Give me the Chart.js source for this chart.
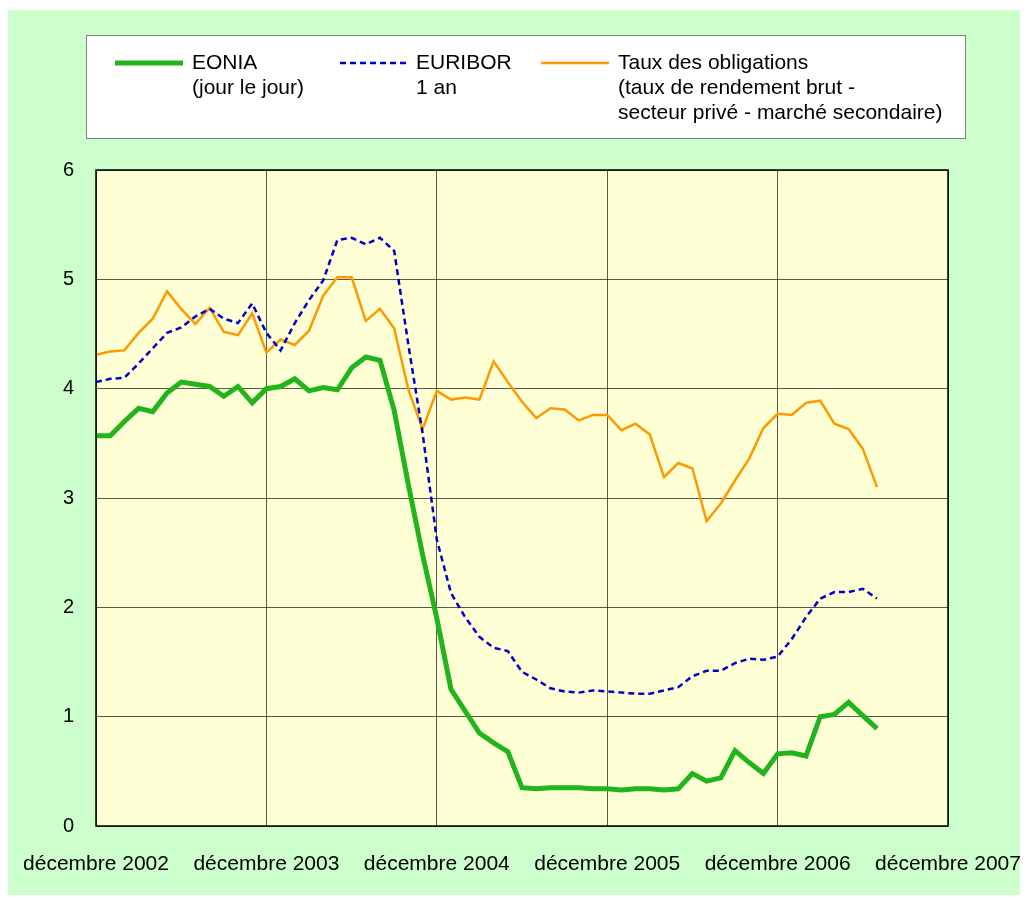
<!DOCTYPE html>
<html lang="fr">
<head>
<meta charset="utf-8">
<title>EONIA, EURIBOR, taux des obligations</title>
<script src="https://cdn.jsdelivr.net/npm/chart.js@4.4.1/dist/chart.umd.min.js"></script>
<style>
  html, body { margin: 0; padding: 0; background: #ffffff; }
  canvas { display: block; }
</style>
</head>
<body>
<canvas id="taux-chart" width="1027" height="900"></canvas>
<script>
      // mois depuis décembre 2002 (0 = déc. 2002)
      const firstYear = 2002;
      const monthsShown = 60;
      const yTicks = [0, 1, 2, 3, 4, 5, 6];

      const eonia = [3.57, 3.57, 3.70, 3.82, 3.79, 3.96, 4.06, 4.04, 4.02, 3.93,
        4.02, 3.87, 4.00, 4.02, 4.09, 3.98, 4.01, 3.99, 4.19, 4.29,
        4.26, 3.80, 3.12, 2.48, 1.90, 1.25, 1.05, 0.85, 0.76, 0.68,
        0.35, 0.34, 0.35, 0.35, 0.35, 0.34, 0.34, 0.33, 0.34, 0.34,
        0.33, 0.34, 0.48, 0.41, 0.44, 0.69, 0.58, 0.48, 0.66, 0.67,
        0.64, 1.00, 1.02, 1.13, 1.01, 0.89];

      const euribor = [4.06, 4.09, 4.10, 4.23, 4.37, 4.51, 4.56, 4.66, 4.73, 4.64,
        4.60, 4.78, 4.51, 4.35, 4.60, 4.81, 4.99, 5.36, 5.38, 5.32,
        5.38, 5.26, 4.40, 3.59, 2.62, 2.13, 1.91, 1.73, 1.63, 1.60,
        1.41, 1.34, 1.26, 1.23, 1.22, 1.24, 1.23, 1.22, 1.21, 1.21,
        1.24, 1.27, 1.37, 1.42, 1.42, 1.49, 1.53, 1.52, 1.55, 1.71,
        1.91, 2.08, 2.14, 2.14, 2.17, 2.08];

      const obligations = [4.31, 4.34, 4.35, 4.51, 4.64, 4.89, 4.73, 4.59, 4.74, 4.52,
        4.49, 4.69, 4.33, 4.45, 4.40, 4.53, 4.85, 5.02, 5.02, 4.62,
        4.73, 4.55, 3.99, 3.63, 3.98, 3.90, 3.92, 3.90, 4.25, 4.06,
        3.88, 3.73, 3.82, 3.81, 3.71, 3.76, 3.76, 3.62, 3.68, 3.58,
        3.19, 3.32, 3.27, 2.79, 2.95, 3.16, 3.36, 3.64, 3.77, 3.76,
        3.87, 3.89, 3.68, 3.63, 3.45, 3.10];

      const legendEonia = ["EONIA", "(jour le jour)"];
      const legendEuribor = ["EURIBOR", "1 an"];
      const legendObligations = ["Taux des obligations", "(taux de rendement brut -", "secteur privé - marché secondaire)"];

      const toPoints = (arr) => arr.map((v, i) => ({ x: i, y: v }));

      const fontFamily = "'Liberation Sans', Arial, sans-serif";

      // fond vert, zone de tracé jaune, cadre noir
      const backgroundPlugin = {
        id: "fonds",
        beforeDraw(chart) {
          const c = chart.ctx;
          const a = chart.chartArea;
          c.save();
          c.fillStyle = "#ccffcc";
          c.fillRect(8, 10, 1012, 885);
          c.fillStyle = "#ffffd5";
          c.fillRect(a.left, a.top, a.right - a.left, a.bottom - a.top);
          c.restore();
        },
        afterDatasetsDraw(chart) {
          const c = chart.ctx;
          const a = chart.chartArea;
          c.save();
          c.strokeStyle = "#000000";
          c.lineWidth = 1.5;
          c.strokeRect(a.left, a.top, a.right - a.left, a.bottom - a.top);
          c.restore();
        },
      };

      // légende encadrée sur trois colonnes
      const legendPlugin = {
        id: "legendeBoite",
        afterDraw(chart) {
          const c = chart.ctx;
          c.save();
          c.fillStyle = "#ffffff";
          c.fillRect(86, 35, 879, 103);
          c.strokeStyle = "#808080";
          c.lineWidth = 1;
          c.strokeRect(86.5, 35.5, 879, 103);

          const cols = [
            { ds: 0, x1: 115, x2: 183, tx: 192 },
            { ds: 1, x1: 340, x2: 410, tx: 416 },
            { ds: 2, x1: 541, x2: 609, tx: 618 },
          ];
          c.font = "21px " + fontFamily;
          c.textBaseline = "middle";
          c.textAlign = "left";
          cols.forEach((col) => {
            const ds = chart.data.datasets[col.ds];
            c.strokeStyle = ds.borderColor;
            c.lineWidth = ds.borderWidth;
            c.setLineDash(ds.borderDash || []);
            c.beginPath();
            c.moveTo(col.x1, 63);
            c.lineTo(col.x2, 63);
            c.stroke();
            c.setLineDash([]);
            c.fillStyle = "#000000";
            ds.legendLines.forEach((line, k) => {
              c.fillText(line, col.tx, 63 + k * 25);
            });
          });
          c.restore();
        },
      };

      const ctx = document.getElementById("taux-chart").getContext("2d");
      const tauxChart = new Chart(ctx, {
        type: "line",
        data: {
          datasets: [
            {
              label: "EONIA (jour le jour)",
              legendLines: legendEonia,
              data: toPoints(eonia),
              borderColor: "#22b41c",
              borderWidth: 5,
              pointRadius: 0,
              tension: 0,
              order: 1,
            },
            {
              label: "EURIBOR 1 an",
              legendLines: legendEuribor,
              data: toPoints(euribor),
              borderColor: "#0000cc",
              borderWidth: 2.5,
              borderDash: [6, 4],
              pointRadius: 0,
              tension: 0,
              order: 2,
            },
            {
              label: "Taux des obligations",
              legendLines: legendObligations,
              data: toPoints(obligations),
              borderColor: "#ff9900",
              borderWidth: 2.5,
              pointRadius: 0,
              tension: 0,
              order: 3,
            },
          ],
        },
        options: {
          responsive: false,
          animation: false,
          layout: {
            padding: { left: 20, right: 79, top: 170, bottom: 20 },
          },
          plugins: {
            legend: { display: false },
            tooltip: { enabled: false },
          },
          scales: {
            x: {
              type: "linear",
              min: 0,
              max: monthsShown,
              border: { display: false },
              grid: {
                color: "rgba(0, 0, 0, 0.65)",
                lineWidth: 1,
                drawTicks: false,
              },
              ticks: {
                stepSize: 12,
                autoSkip: false,
                maxRotation: 0,
                padding: 26,
                color: "#000000",
                font: { family: fontFamily, size: 21 },
                callback: (v) => "décembre " + (firstYear + v / 12),
              },
              afterFit: (scale) => {
                scale.height = 54;
                scale.paddingLeft = 0;
                scale.paddingRight = 0;
              },
            },
            y: {
              min: yTicks[0],
              max: yTicks[yTicks.length - 1],
              border: { display: false },
              grid: {
                color: "rgba(0, 0, 0, 0.65)",
                lineWidth: 1,
                drawTicks: false,
              },
              ticks: {
                stepSize: 1,
                padding: 22,
                color: "#000000",
                font: { family: fontFamily, size: 20 },
              },
              afterFit: (scale) => { scale.width = 76; },
            },
          },
        },
        plugins: [backgroundPlugin, legendPlugin],
      });
</script>
</body>
</html>
